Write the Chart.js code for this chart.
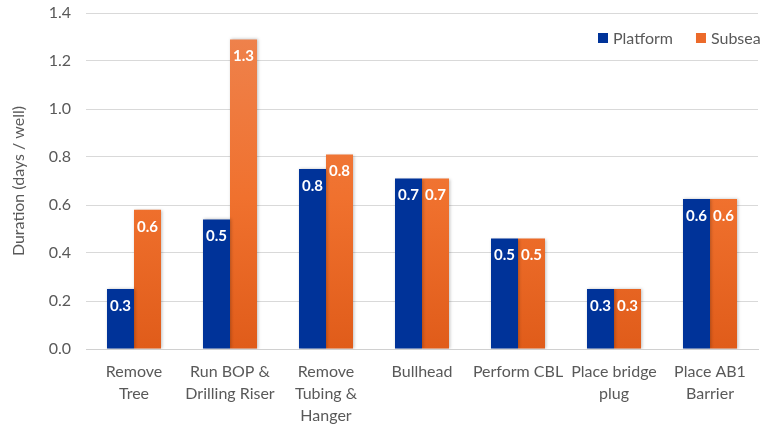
<!DOCTYPE html>
<html>
<head>
<meta charset="utf-8">
<script src="https://cdn.jsdelivr.net/npm/chart.js@4"></script>
<style>
  html, body { margin: 0; padding: 0; background: #ffffff; }
  #wrap { width: 761px; height: 426px; position: relative; }
</style>
</head>
<body>
<div id="wrap"><canvas id="c" width="761" height="426"></canvas></div>
<script>
// Activity categories (multi-line labels)
const categories = [
  ["Remove", "Tree"],
  ["Run BOP &", "Drilling Riser"],
  ["Remove", "Tubing &", "Hanger"],
  ["Bullhead"],
  ["Perform CBL"],
  ["Place bridge", "plug"],
  ["Place AB1", "Barrier"]
];
// Duration per well, days
const platform = [0.25, 0.54, 0.75, 0.71, 0.46, 0.25, 0.625];
const subsea   = [0.58, 1.29, 0.81, 0.71, 0.46, 0.25, 0.625];
const seriesNames = ["Platform", "Subsea"];
const yTicks = [0, 0.2, 0.4, 0.6, 0.8, 1.0, 1.2, 1.4];

const FONT = "Lato, 'Open Sans', sans-serif";
const BLUE = "#003399";
const ORANGE = "#EC6A2A";

function orangeFill(ctx) {
  const chart = ctx.chart;
  const area = chart.chartArea;
  if (!area) return ORANGE;
  const g = chart.ctx.createLinearGradient(0, area.top, 0, area.bottom);
  g.addColorStop(0, "#EE8450");
  g.addColorStop(0.55, "#F0712E");
  g.addColorStop(1, "#E05C1A");
  return g;
}

// White value labels just inside the top of each bar
const valueLabels = {
  id: "valueLabels",
  afterDatasetsDraw(chart) {
    const c = chart.ctx;
    c.save();
    c.font = "bold 15px " + FONT;
    c.fillStyle = "#ffffff";
    c.textAlign = "center";
    c.textBaseline = "middle";
    chart.data.datasets.forEach((ds, i) => {
      chart.getDatasetMeta(i).data.forEach((bar, j) => {
        c.fillText(ds.data[j].toFixed(1), bar.x, bar.y + 17);
      });
    });
    c.restore();
  }
};

// Legend drawn in the upper right of the plot
const cornerLegend = {
  id: "cornerLegend",
  afterDraw(chart) {
    const c = chart.ctx;
    c.save();
    c.font = "16px " + FONT;
    c.textBaseline = "middle";
    const y = 38;
    let x = 598;
    chart.data.datasets.forEach((ds) => {
      c.fillStyle = ds.legendColor;
      c.fillRect(x, y - 5, 10, 10);
      c.fillStyle = "#595959";
      c.fillText(ds.label, x + 15, y + 1);
      x += 15 + c.measureText(ds.label).width + 23;
    });
    c.restore();
  }
};

// Soft shadow under bars
const barShadow = {
  id: "barShadow",
  beforeDatasetsDraw(chart) {
    const c = chart.ctx;
    c.save();
    c.shadowColor = "rgba(0,0,0,0.25)";
    c.shadowBlur = 3;
    c.shadowOffsetX = 1;
    c.shadowOffsetY = 0;
  },
  afterDatasetsDraw(chart) {
    chart.ctx.restore();
  }
};

new Chart(document.getElementById("c"), {
  type: "bar",
  data: {
    labels: categories,
    datasets: [
      { label: seriesNames[0], data: platform, backgroundColor: BLUE, legendColor: BLUE },
      { label: seriesNames[1], data: subsea, backgroundColor: orangeFill, legendColor: ORANGE }
    ]
  },
  options: {
    responsive: false,
    animation: false,
    devicePixelRatio: 1,
    layout: { autoPadding: false, padding: { top: 13, right: 3, left: 9, bottom: 0 } },
    datasets: { bar: { categoryPercentage: 0.5625, barPercentage: 1.0 } },
    plugins: {
      legend: { display: false },
      tooltip: { enabled: false }
    },
    scales: {
      x: {
        grid: { display: false, drawTicks: false },
        border: { color: "#d0d0d0", width: 1 },
        ticks: {
          color: "#595959",
          font: { family: FONT, size: 16, lineHeight: 1.375 },
          padding: 12,
          maxRotation: 0,
          autoSkip: false
        },
        afterFit(s) { s.height = 77; }
      },
      y: {
        min: 0,
        max: 1.4,
        afterBuildTicks(s) { s.ticks = yTicks.map(v => ({ value: v })); },
        // invisible tick marks keep the labels clear of the plot
        grid: { color: "#d9d9d9", lineWidth: 1, drawTicks: true, tickLength: 15, tickColor: "rgba(0,0,0,0)" },
        border: { display: false },
        ticks: {
          color: "#595959",
          font: { family: FONT, size: 16 },
          padding: 0,
          callback: v => v.toFixed(1)
        },
        title: {
          display: true,
          text: "Duration (days / well)",
          color: "#595959",
          font: { family: FONT, size: 16 },
          padding: { top: 0, bottom: 4 }
        },
        afterFit(s) { s.width = 77; }
      }
    }
  },
  plugins: [barShadow, valueLabels, cornerLegend]
});
</script>
</body>
</html>
